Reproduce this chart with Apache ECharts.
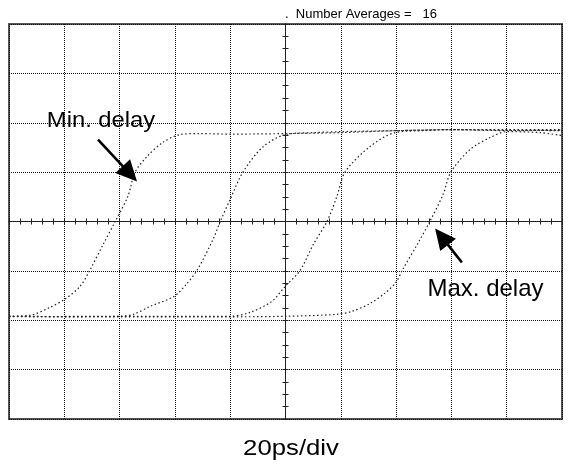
<!DOCTYPE html>
<html>
<head>
<meta charset="utf-8">
<script src="https://cdn.jsdelivr.net/npm/echarts@6/dist/echarts.min.js"></script>
<style>
html,body{margin:0;padding:0;background:#fff;}
#c{width:582px;height:464px;}
</style>
</head>
<body>
<div id="c"></div>
<script>
// time in ps relative to screen centre (20 ps/div), amplitude in divisions
var minDelayX = [-100, -92.4, -85.2, -80, -74.4, -70.8, -66, -61.6, -57, -54.4, -50, -44.4, -38.2, -31, -20, 0, 20, 40, 60, 80, 100];
var minDelayY = [-1.92, -1.90, -1.74, -1.58, -1.32, -0.99, -0.47, 0, 0.51, 1.0, 1.32, 1.60, 1.76, 1.78, 1.77, 1.78, 1.80, 1.84, 1.86, 1.85, 1.84];

var delay2X = [-100, -80, -60, -55, -49, -40.4, -36, -32, -26.2, -23.6, -20, -15.4, -8, 0, 10, 20, 40, 60, 80, 100];
var delay2Y = [-1.92, -1.93, -1.92, -1.88, -1.72, -1.52, -1.28, -0.99, -0.36, 0, 0.45, 1.0, 1.52, 1.76, 1.80, 1.82, 1.84, 1.86, 1.84, 1.85];

var delay3X = [-100, -60, -20, -12.8, -5, -0.2, 5.3, 10, 15, 18.6, 21.5, 30.6, 39.6, 50, 60, 80, 100];
var delay3Y = [-1.93, -1.92, -1.92, -1.84, -1.62, -1.32, -0.99, -0.47, 0, 0.51, 1.0, 1.52, 1.80, 1.84, 1.86, 1.86, 1.86];

var maxDelayX = [-100, -60, -20, 0, 18.6, 24, 30.6, 36, 40, 42.2, 48, 52.2, 57, 59.8, 66.8, 74, 80, 92, 100];
var maxDelayY = [-1.92, -1.93, -1.93, -1.92, -1.88, -1.82, -1.66, -1.45, -1.23, -0.99, -0.43, 0, 0.55, 1.0, 1.46, 1.70, 1.82, 1.80, 1.74];

var xMin = -100, xMax = 100, xStep = 20;   // 10 divisions
var yMin = -4, yMax = 4, yStep = 1;         // 8 divisions

var headerText = '.  Number Averages =   16';
var timebaseText = '20ps/div';
var minLabel = 'Min. delay';
var maxLabel = 'Max. delay';
// annotation arrows in data coordinates [from, to]
var minArrow = [[-67.8, 1.66], [-53.7, 0.81]];
var maxArrow = [[63.8, -0.83], [54.1, -0.14]];

function pairs(xs, ys) { return xs.map(function (x, i) { return [x, ys[i]]; }); }

var traceStyle = { color: '#222', width: 1.2, type: [1.5, 2.5] };
var gridDot = { color: '#111', width: 1, type: [1, 1] };

function centerAxis(pos, min, max, step, minorN, withSplit) {
  return {
    type: 'value', position: pos, min: min, max: max, interval: step,
    axisLine: { show: true, onZero: true, onZeroAxisIndex: 0, lineStyle: gridDot },
    axisTick: { show: true, length: 3, lineStyle: { color: '#222', width: 1 } },
    minorTick: { show: true, splitNumber: minorN, length: 3, lineStyle: { color: '#222', width: 1 } },
    axisLabel: { show: false },
    splitLine: { show: withSplit, lineStyle: gridDot },
    minorSplitLine: { show: false }
  };
}

var chart = echarts.init(document.getElementById('c'), null, { renderer: 'canvas' });
var series = [minDelayX, delay2X, delay3X, maxDelayX].map(function (xs, i) {
  var ys = [minDelayY, delay2Y, delay3Y, maxDelayY][i];
  return {
    type: 'line', xAxisIndex: 0, yAxisIndex: 0, data: pairs(xs, ys),
    showSymbol: false, symbol: 'none', smooth: 0.3, silent: true,
    lineStyle: traceStyle, z: 3
  };
});

var font = 'Liberation Sans, Arial, Helvetica, sans-serif';
chart.setOption({
  animation: false,
  backgroundColor: '#fff',
  grid: { left: 9, top: 24, width: 553, height: 395, show: true, borderColor: '#555', borderWidth: 2, backgroundColor: 'transparent', containLabel: false },
  xAxis: [centerAxis('bottom', xMin, xMax, xStep, 5, true), centerAxis('top', xMin, xMax, xStep, 5, false)],
  yAxis: [centerAxis('left', yMin, yMax, yStep, 4, true), centerAxis('right', yMin, yMax, yStep, 4, false)],
  series: series
});

// arrows: positioned through the chart's own scales
function arrowGraphics(arrow) {
  var p0 = chart.convertToPixel({ gridIndex: 0 }, arrow[0]);
  var p1 = chart.convertToPixel({ gridIndex: 0 }, arrow[1]);
  var dx = p1[0] - p0[0], dy = p1[1] - p0[1];
  var len = Math.sqrt(dx * dx + dy * dy);
  var ux = dx / len, uy = dy / len, nx = -uy, ny = ux;
  var headLen = 21, headHalf = 10;
  var bx = p1[0] - ux * headLen, by = p1[1] - uy * headLen;
  return [
    { type: 'line', z: 10, shape: { x1: p0[0], y1: p0[1], x2: bx + ux * 2, y2: by + uy * 2 }, style: { stroke: '#000', lineWidth: 2.6 } },
    { type: 'polygon', z: 10, shape: { points: [[p1[0], p1[1]], [bx + nx * headHalf, by + ny * headHalf], [bx - nx * headHalf, by - ny * headHalf]] }, style: { fill: '#000' } }
  ];
}

var graphics = [
  { type: 'text', left: 285, top: 8, style: { text: headerText, font: '13px ' + font, fill: '#000' } },
  { type: 'text', x: 101, y: 121, scaleX: 1.08, style: { text: minLabel, font: '22px ' + font, fill: '#000', align: 'center', verticalAlign: 'middle' } },
  { type: 'text', x: 485.5, y: 289, style: { text: maxLabel, font: '24px ' + font, fill: '#000', align: 'center', verticalAlign: 'middle' } },
  { type: 'text', x: 291, y: 449, scaleX: 1.17, style: { text: timebaseText, font: '22px ' + font, fill: '#000', align: 'center', verticalAlign: 'middle' } }
].concat(arrowGraphics(minArrow), arrowGraphics(maxArrow));

chart.setOption({ graphic: graphics });
</script>
</body>
</html>
